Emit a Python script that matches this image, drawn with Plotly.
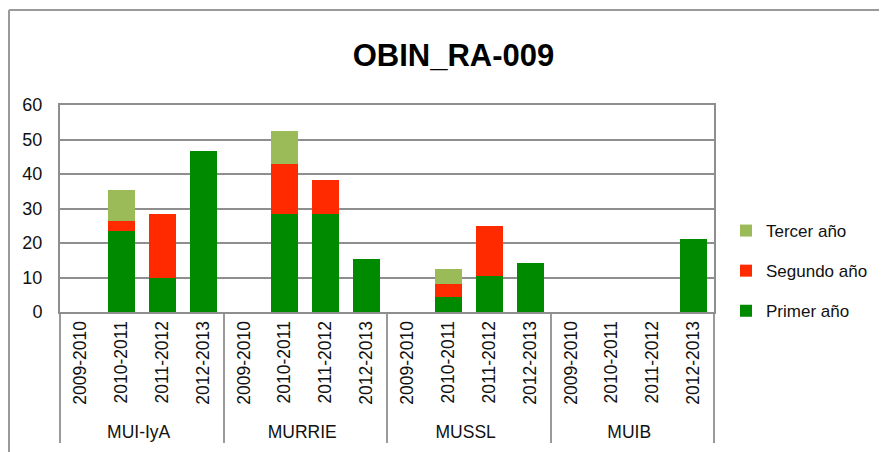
import plotly.graph_objects as go

groups = ["MUI-IyA", "MURRIE", "MUSSL", "MUIB"]
years = ["2009-2010", "2010-2011", "2011-2012", "2012-2013"]

# values per (group, year), in order groups x years
primer = [0, 23.5, 9.8, 46.6,
          0, 28.5, 28.5, 15.3,
          0, 4.4, 10.3, 14.2,
          0, 0, 0, 21.3]
segundo = [0, 2.9, 18.7, 0,
           0, 14.4, 9.7, 0,
           0, 3.8, 14.7, 0,
           0, 0, 0, 0]
tercer = [0, 9.1, 0, 0,
          0, 9.7, 0, 0,
          0, 4.3, 0, 0,
          0, 0, 0, 0]

series_names = ["Primer año", "Segundo año", "Tercer año"]
series_colors = ["#008a00", "#ff2a00", "#9bbb59"]
legend_ranks = [3, 2, 1]

x_outer = [g for g in groups for _ in years]
x_inner = [y for _ in groups for y in years]

FONT = "Liberation Sans, Arial, sans-serif"

# figure geometry (px); the page body adds an 8px offset
W, H = 887, 452
L, R, T, B = 52, 181, 97, 148
PW, PH = W - L - R, H - T - B

fig = go.Figure()
for name, vals, col, rk in zip(series_names, [primer, segundo, tercer], series_colors, legend_ranks):
    fig.add_trace(go.Bar(
        x=[x_outer, x_inner], y=vals, name=name, legendgroup=name, legendrank=rk,
        marker=dict(color=col, line=dict(width=0)),
    ))

top_y = (H - 2 - B) / PH
left_x = (1 - L) / PW
fig.update_layout(
    width=W, height=H,
    barmode="stack", bargap=0.34,
    plot_bgcolor="white", paper_bgcolor="white",
    margin=dict(l=L, r=R, t=T, b=B, autoexpand=False),
    font=dict(family=FONT, size=17, color="#111"),
    title=dict(text="<b>OBIN_RA-009</b>", x=445.5 / W, xanchor="center",
               y=0.8965, yanchor="middle",
               font=dict(family=FONT, size=31, color="#000")),
    legend=dict(x=(726 - 8 - L) / PW, xanchor="left", y=(304 - 263) / PH, yanchor="middle",
                traceorder="grouped", tracegroupgap=15,
                font=dict(family=FONT, size=17, color="#111"),
                itemwidth=30, bgcolor="rgba(0,0,0,0)"),
    showlegend=True,
    shapes=[
        dict(type="line", xref="paper", yref="paper",
             x0=left_x, x1=left_x, y0=-B / PH - 0.05, y1=top_y,
             line=dict(color="#9a9a9a", width=2)),
        dict(type="line", xref="paper", yref="paper",
             x0=left_x, x1=(W - L) / PW, y0=top_y, y1=top_y,
             line=dict(color="#9a9a9a", width=2)),
    ],
)

fig.update_yaxes(range=[0, 60], dtick=10, showgrid=True, gridcolor="#8e8e8e",
                 gridwidth=1.5, showline=True, linecolor="#8e8e8e", linewidth=2,
                 mirror=True, ticks="", ticklabelstandoff=12, automargin=False,
                 tickfont=dict(family=FONT, size=18, color="#111"), zeroline=False)
fig.update_xaxes(type="multicategory", showline=True, linecolor="#8e8e8e",
                 linewidth=2, mirror=True, tickangle=-90, showdividers=True,
                 dividercolor="#9a9a9a", dividerwidth=2, ticks="", automargin=False,
                 tickfont=dict(family=FONT, size=17.5, color="#111"))

fig.write_html("out.html")
